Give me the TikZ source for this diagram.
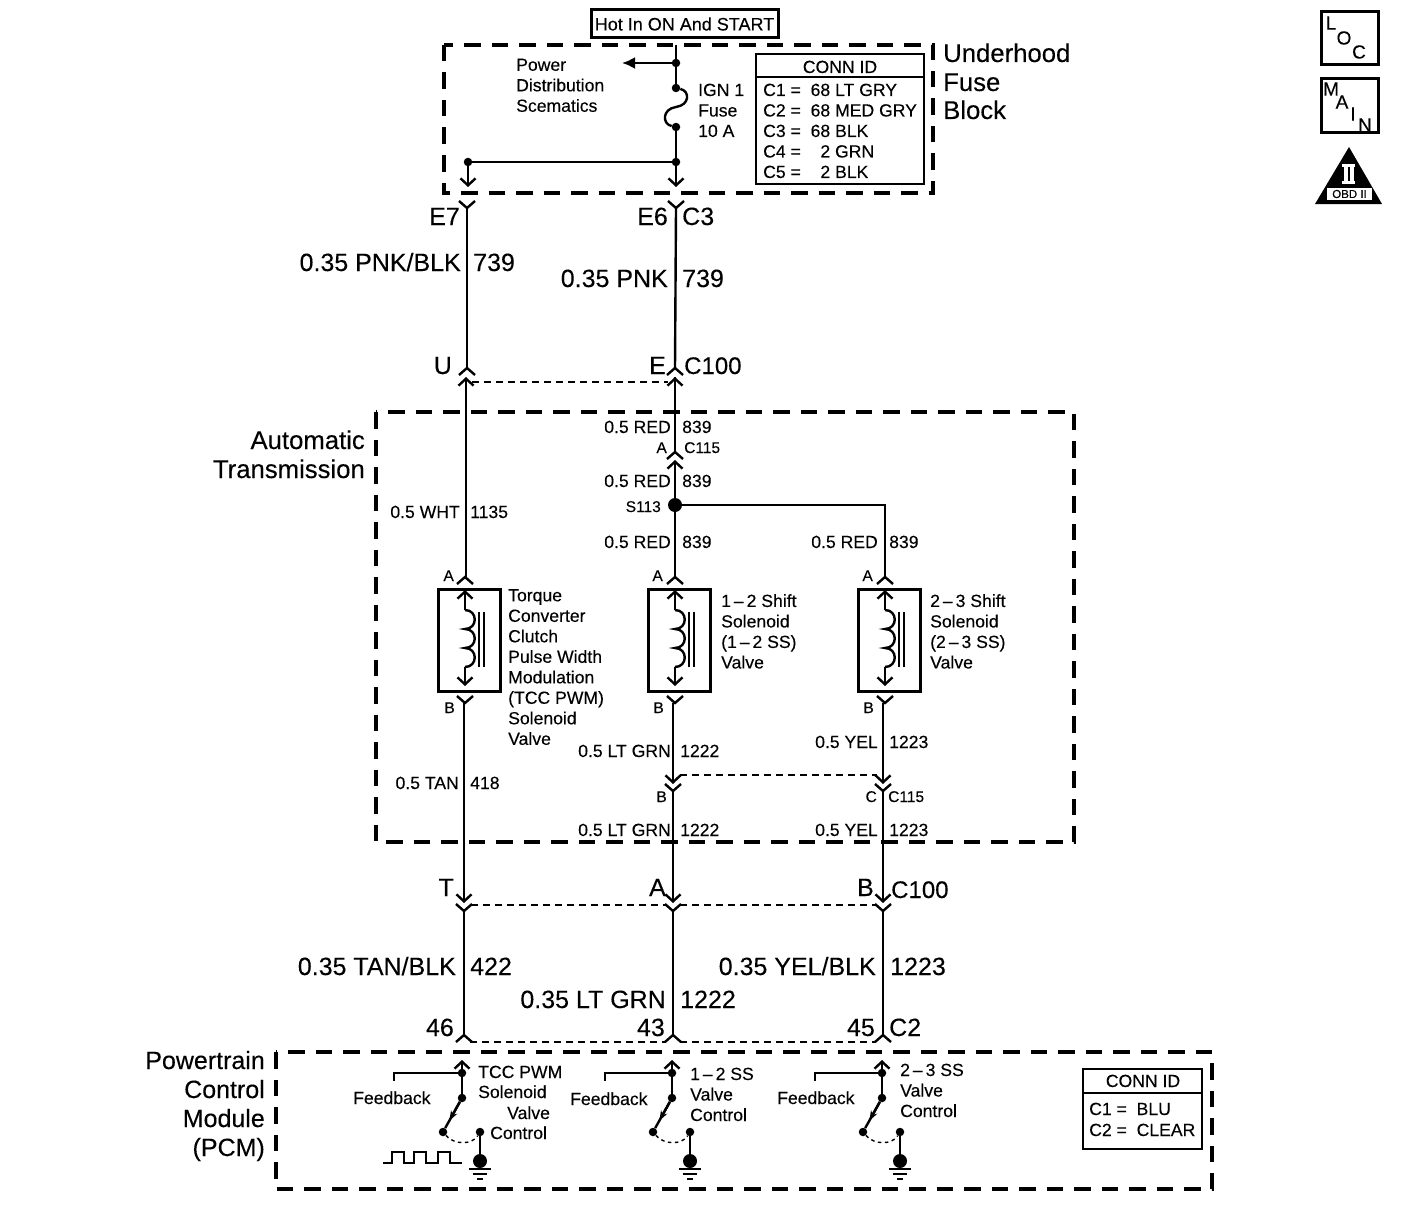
\documentclass[tikz,border=0pt]{standalone}
\usepackage{fontspec}
\setmainfont{Liberation Sans}[FakeBold=0.2]
\usetikzlibrary{arrows.meta}
\newcommand\bigf{\fontsize{25}{28.6}\selectfont}
\newcommand\midf{\fontsize{17.6}{20.5}\selectfont}
\newcommand\smlf{\fontsize{15.5}{18}\selectfont}
\tikzset{
  wire/.style={line width=2.4pt},
  thinwire/.style={line width=1.6pt},
  tipped/.style={wire,-{Straight Barb[length=7pt,width=15pt]}},
  shunt/.style={line width=1.6pt,dash pattern=on 6.5pt off 5.5pt},
  zone/.style={line width=3.6pt,dash pattern=on 16.5pt off 11pt},
  idbox/.style={draw,line width=2.6pt},
  dot/.style={circle,fill,inner sep=0pt,minimum size=8.5pt},
  lw/.style={inner sep=0pt,anchor=base west},
  le/.style={inner sep=0pt,anchor=base east},
  big/.style={font=\bigf},
  bigw/.style={font=\fontsize{25.7}{28.6}\selectfont},
  bign/.style={font=\fontsize{24}{28.6}\selectfont},
  mid/.style={font=\midf},
  sml/.style={font=\smlf},
  sign/.style={font=\fontsize{19}{20}\selectfont},
  forkup/.pic={\draw[wire] (-8,-7) -- (0,0) -- (8,-7);},
  forkdn/.pic={\draw[wire] (-8,7) -- (0,0) -- (8,7);},
}
\begin{document}
\begin{tikzpicture}[x=1pt,y=-1pt]
\useasboundingbox (0,0) rectangle (1408,1220);

% zones
\draw[zone] (444,45) rectangle (933,193);
\draw[zone] (376,412) rectangle (1074,842);
\draw[zone] (276,1052) rectangle (1212,1189);

% hot box and fuse block
\node[draw,line width=3pt,minimum width=187pt,minimum height=28pt,inner sep=0pt,font=\fontsize{18}{20}\selectfont] (hot) at (684.5,24) {Hot In ON And START};
\coordinate (top) at (676,45);
\node[dot] (pdist) at (676,63) {};
\node[dot] (fuse1) at (676,88) {};
\node[dot] (fuse2) at (676,127) {};
\node[dot] (split) at (676,162) {};
\node[dot] (splitl) at (468,162) {};
\coordinate (pdtip) at (622,63);
\coordinate (e6tip) at (676,187);
\coordinate (e7tip) at (468,187);
\draw[wire] (top) -- (pdist) -- (fuse1);
\draw[wire,-{Latex[length=13pt,width=12pt]}] (pdist) -- (pdtip);
\draw[wire] (fuse1) .. controls (690,91) and (690,105) .. (676,107)
  .. controls (662,109) and (662,124) .. (fuse2);
\draw[tipped] (fuse2) -- (split) -- (e6tip);
\draw[thinwire] (split) -- (splitl);
\draw[tipped] (splitl) -- (e7tip);
\node[lw,mid,align=left,anchor=north west] (pds) at (516,58.5) {Power\\Distribution\\Scematics};
\node[lw,mid,align=left,anchor=north west] (ign) at (698,83.5) {IGN 1\\Fuse\\10 A};

\node[idbox,minimum width=168pt,minimum height=130pt] (conn1) at (840,119) {};
\draw[line width=2pt] (756,77) -- (924,77);
\node[lw,mid,anchor=base] (conn1t) at (840,73) {CONN ID};
\node[lw,mid,align=left,anchor=north west] (conn1l) at (763,83.5) {C1 =\ \ 68 LT GRY\\C2 =\ \ 68 MED GRY\\C3 =\ \ 68 BLK\\C4 =\ \ \phantom{6}2 GRN\\C5 =\ \ \phantom{6}2 BLK};

\node[lw,bigw] (ufb1) at (943,62) {Underhood};
\node[lw,bigw] (ufb2) at (943,91) {Fuse};
\node[lw,bigw] (ufb3) at (943,119) {Block};

% upper harness
\coordinate (e7) at (467,208);
\coordinate (e6) at (676,208);
\coordinate (u) at (467,368);
\coordinate (e) at (675,368);
\coordinate (ubot) at (466,377);
\coordinate (ebot) at (675,377);
\pic at (e7) {forkup};
\pic at (e6) {forkup};
\pic at (u) {forkdn};
\pic at (e) {forkdn};
\draw[wire] (e7) -- (u);
\draw[wire] (e6) -- (e);
\draw[shunt] (472,382) -- (668,382);

\node[le,big] (e7l) at (460,225) {E7};
\node[le,big] (e6l) at (668,225) {E6};
\node[lw,big] (c3l) at (682,225) {C3};
\node[le,big] (w1a) at (461,271) {0.35 PNK/BLK};
\node[lw,big] (w1b) at (473,271) {739};
\node[le,big] (w2a) at (668,287) {0.35 PNK};
\node[lw,big] (w2b) at (682,287) {739};
\node[le,big] (ul) at (452,374) {U};
\node[le,big] (el) at (666,374) {E};
\node[lw,bign] (c100a) at (684,374) {C100};

\node[le,bigw] (at1) at (365,449) {Automatic};
\node[le,bigw] (at2) at (365,478) {Transmission};

% transmission
\coordinate (c115a) at (675,452);
\coordinate (c115b) at (675,460);
\node[dot,minimum size=14pt] (s113) at (675,505) {};
\coordinate (s113r) at (885,505);
\pic at (c115a) {forkdn};
\draw[wire] (ebot) -- (c115a);
\draw[wire,arrows={{Straight Barb[length=7pt,width=15pt]}-}] (c115b) -- (s113);
\draw[wire,arrows={{Straight Barb[length=7pt,width=15pt]}-}] (ebot) -- (675,378);
\draw[wire,arrows={{Straight Barb[length=7pt,width=15pt]}-}] (ubot) -- (466,577);
\draw[wire] (s113) -- (s113r) -- (885,577);
\draw[wire] (s113) -- (675,577);

% the three solenoids
\foreach \n/\x in {a/465,b/675,c/885}{
  \coordinate (fa\n) at (\x,577);
  \coordinate (fb\n) at (\x,703);
  \pic at (fa\n) {forkdn};
  \pic at (fb\n) {forkup};
  \node[idbox,line width=3pt,minimum width=62pt,minimum height=102pt,inner sep=0pt] (sol\n) at (\x+4.5,640) {};
  \coordinate (ca\n) at (\x,610);
  \coordinate (cb\n) at (\x,667);
  \draw[wire,arrows={{Straight Barb[length=7pt,width=15pt]}-}] (\x,590) -- (ca\n);
  \draw[tipped] (cb\n) -- (\x,686);
  \draw[wire] (ca\n) .. controls (\x+13,610) and (\x+13,629) .. (\x,629)
    .. controls (\x+13,629) and (\x+13,648) .. (\x,648)
    .. controls (\x+13,648) and (\x+13,667) .. (cb\n);
  \draw[thinwire] (\x+14,612) -- (\x+14,667);
  \draw[thinwire] (\x+19,612) -- (\x+19,667);
}

\node[le,mid] (r1a) at (671,433) {0.5 RED};
\node[lw,mid] (r1b) at (682,433) {839};
\node[le,sml] (c115al) at (667,453) {A};
\node[lw,sml] (c115l) at (684,453) {C115};
\node[le,mid] (r2a) at (671,487) {0.5 RED};
\node[lw,mid] (r2b) at (682,487) {839};
\node[le,sml] (s113l) at (661,512) {S113};
\node[le,mid] (wh) at (460,518) {0.5 WHT};
\node[lw,mid] (whn) at (470,518) {1135};
\node[le,mid] (r3a) at (671,548) {0.5 RED};
\node[lw,mid] (r3b) at (682,548) {839};
\node[le,mid] (r4a) at (878,548) {0.5 RED};
\node[lw,mid] (r4b) at (889,548) {839};
\node[le,sml] (aa) at (454,581) {A};
\node[le,sml] (ab) at (663,581) {A};
\node[le,sml] (ac) at (873,581) {A};
\node[le,sml] (ba) at (455,713) {B};
\node[le,sml] (bb) at (664,713) {B};
\node[le,sml] (bc) at (874,713) {B};
\node[lw,mid,align=left,anchor=north west] (tcc) at (508,589) {Torque\\Converter\\Clutch\\Pulse Width\\Modulation\\(TCC PWM)\\Solenoid\\Valve};
\node[lw,mid,align=left,anchor=north west] (ss1) at (721,594) {1\,–\,2 Shift\\Solenoid\\(1\,–\,2 SS)\\Valve};
\node[lw,mid,align=left,anchor=north west] (ss2) at (930,594) {2\,–\,3 Shift\\Solenoid\\(2\,–\,3 SS)\\Valve};

% lower harness
\coordinate (c115m) at (673,784);
\coordinate (c115r) at (883,784);
\coordinate (c115mb) at (673,791);
\coordinate (c115rb) at (883,791);
\coordinate (ta) at (464,903);
\coordinate (tb) at (673,903);
\coordinate (tc) at (883,903);
\coordinate (ba1) at (464,911);
\coordinate (bb1) at (673,911);
\coordinate (bc1) at (883,911);
\coordinate (pa) at (464,1035);
\coordinate (pb) at (673,1035);
\coordinate (pc) at (883,1035);
\draw[tipped] (fba) ++(-1,0) -- (ta);
\draw[tipped] (fbb) ++(-2,0) -- (c115m);
\draw[tipped] (fbc) ++(-2,0) -- (c115r);
\pic at (c115mb) {forkup};
\pic at (c115rb) {forkup};
\draw[tipped] (c115mb) -- (tb);
\draw[tipped] (c115rb) -- (tc);
\draw[shunt] (680,775) -- (877,775);
\draw[shunt] (471,905) -- (667,905);
\draw[shunt] (680,905) -- (877,905);
\draw[shunt] (470,1042) -- (666,1042);
\draw[shunt] (680,1042) -- (876,1042);
\foreach \n in {a,b,c}{
  \pic at (b\n1) {forkup};
  \pic at (p\n) {forkdn};
  \draw[wire] (b\n1) -- (p\n);
}

\node[le,mid] (yl1) at (878,748) {0.5 YEL};
\node[lw,mid] (yl1n) at (889,748) {1223};
\node[le,mid] (gr1) at (671,757) {0.5 LT GRN};
\node[lw,mid] (gr1n) at (680,757) {1222};
\node[le,mid] (tn) at (459,789) {0.5 TAN};
\node[lw,mid] (tnn) at (470,789) {418};
\node[le,sml] (bcc) at (667,802) {B};
\node[le,sml] (ccc) at (877,802) {C};
\node[lw,sml] (c115bl) at (888,802) {C115};
\node[le,mid] (gr2) at (671,836) {0.5 LT GRN};
\node[lw,mid] (gr2n) at (680,836) {1222};
\node[le,mid] (yl2) at (878,836) {0.5 YEL};
\node[lw,mid] (yl2n) at (889,836) {1223};
\node[le,big] (tl) at (454,896) {T};
\node[le,big] (al) at (666,896) {A};
\node[le,big] (bl) at (874,896) {B};
\node[lw,bign] (c100b) at (891,898) {C100};
\node[le,big] (w3a) at (456,975) {0.35 TAN/BLK};
\node[lw,big] (w3b) at (470,975) {422};
\node[le,big] (w4a) at (666,1008) {0.35 LT GRN};
\node[lw,big] (w4b) at (680,1008) {1222};
\node[le,big] (w5a) at (876,975) {0.35 YEL/BLK};
\node[lw,big] (w5b) at (890,975) {1223};
\node[le,big] (p46) at (454,1036) {46};
\node[le,big] (p43) at (665,1036) {43};
\node[le,big] (p45) at (875,1036) {45};
\node[lw,big] (c2l) at (889,1036) {C2};

% pcm
\node[le,big] (pcm1) at (265,1069) {Powertrain};
\node[le,big] (pcm2) at (265,1098) {Control};
\node[le,big] (pcm3) at (265,1127) {Module};
\node[le,big] (pcm4) at (265,1156) {(PCM)};

\foreach \n/\x/\f in {a/462/394,b/672/605,c/882/815}{
  \coordinate (ptip\n) at (\x,1060);
  \node[dot] (pfb\n) at (\x,1073) {};
  \node[dot] (pcom\n) at (\x,1098) {};
  \node[dot] (pnc\n) at (\x-19,1132) {};
  \node[dot] (pno\n) at (\x+18,1132) {};
  \node[dot,minimum size=14pt] (pgnd\n) at (\x+18,1161) {};
  \coordinate (pfl\n) at (\f,1081);
  \draw[wire,arrows={{Straight Barb[length=7pt,width=15pt]}-}] (ptip\n) -- (pfb\n);
  \draw[wire] (pfb\n) -- (pcom\n);
  \draw[thinwire] (pfb\n) -| (pfl\n);
  \draw[wire] (pcom\n) -- (pnc\n) coordinate[pos=.72] (parr\n);
  \draw[wire,-{Stealth[length=10pt,width=7pt]}] (pcom\n) -- (parr\n);
  \draw[shunt,line width=1.4pt,dash pattern=on 3.5pt off 3.5pt] (pnc\n) .. controls (\x-8,1145) and (\x+10,1145) .. (pno\n);
  \draw[wire] (pno\n) -- (pgnd\n);
  \draw[thinwire] (\x+7,1169) -- (\x+29,1169);
  \draw[thinwire] (\x+11,1174) -- (\x+25,1174);
  \draw[thinwire] (\x+15,1179) -- (\x+21,1179);
}
\draw[thinwire] (383,1163) -- (392,1163) -- (392,1152) -- (404,1152) -- (404,1163) -- (414,1163)
  -- (414,1152) -- (426,1152) -- (426,1163) -- (438,1163) -- (438,1152) -- (450,1152) -- (450,1163) -- (462,1163);

\node[lw,mid] (fa) at (353,1104) {Feedback};
\node[lw,mid] (fb) at (570,1105) {Feedback};
\node[lw,mid] (fc) at (777,1104) {Feedback};
\node[lw,mid] (pa1) at (478,1078) {TCC PWM};
\node[lw,mid] (pa2) at (478,1098) {Solenoid};
\node[lw,mid] (pa3) at (507,1119) {Valve};
\node[lw,mid] (pa4) at (490,1139) {Control};
\node[lw,mid,align=left,anchor=north west] (pb1) at (690,1067.5) {1\,–\,2 SS\\Valve\\Control};
\node[lw,mid,align=left,anchor=north west] (pc1) at (900,1063.5) {2\,–\,3 SS\\Valve\\Control};

\node[idbox,minimum width=119pt,minimum height=80pt] (conn2) at (1142.5,1109) {};
\draw[line width=2pt] (1083,1093) -- (1202,1093);
\node[lw,mid,anchor=base] (conn2t) at (1143,1087) {CONN ID};
\node[lw,mid] (conn2a) at (1089,1115) {C1 =\ \ BLU};
\node[lw,mid] (conn2b) at (1089,1136) {C2 =\ \ CLEAR};

% side symbols
\node[draw,line width=3.4pt,minimum width=57pt,minimum height=53pt,inner sep=0pt] (loc) at (1350,38) {};
\node[sign] (loc1) at (1331,23) {L};
\node[sign] (loc2) at (1344,38) {O};
\node[sign] (loc3) at (1359,52) {C};
\node[draw,line width=3.4pt,minimum width=57pt,minimum height=54pt,inner sep=0pt] (mainb) at (1350,105.5) {};
\node[sign] (mn1) at (1331,89) {M};
\node[sign] (mn2) at (1342,102) {A};
\node[sign] (mn3) at (1353,114) {I};
\node[sign] (mn4) at (1365,125) {N};
\fill (1349,147) -- (1382,204) -- (1315,204) -- cycle;
\fill[white] (1342,164) rectangle (1355,167);
\fill[white] (1342,181) rectangle (1355,184);
\fill[white] (1344,167) rectangle (1347.5,181);
\fill[white] (1350,167) rectangle (1353.5,181);
\node[fill=white,inner sep=0pt,minimum width=45pt,minimum height=12pt,font=\fontsize{11.5}{12}\selectfont] (obd) at (1349.5,194) {OBD II};
\end{tikzpicture}
\end{document}
